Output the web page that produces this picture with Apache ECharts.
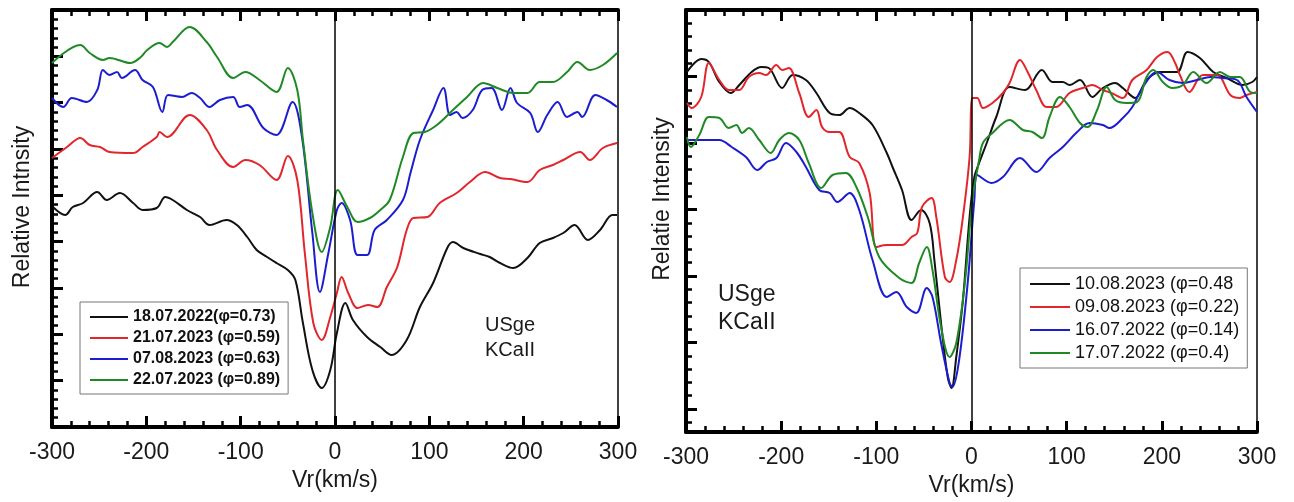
<!DOCTYPE html>
<html>
<head>
<meta charset="utf-8">
<script src="https://cdn.jsdelivr.net/npm/echarts@6/dist/echarts.min.js"></script>
<style>
  html, body { margin: 0; padding: 0; background: #fff; }
  #chart { width: 1294px; height: 502px; }
</style>
</head>
<body>
<div id="chart"></div>
<script>
// legend labels, same order as the curves below
const leftNames = ['18.07.2022(\u03c6=0.73)', '21.07.2023 (\u03c6=0.59)', '07.08.2023 (\u03c6=0.63)', '22.07.2023 (\u03c6=0.89)'];
const rightNames = ['10.08.2023 (\u03c6=0.48', '09.08.2023 (\u03c6=0.22)', '16.07.2022 (\u03c6=0.14)', '17.07.2022 (\u03c6=0.4)'];
const lineColors = ['#111111', '#e2262b', '#1d1dd0', '#1f8a25'];

// [Vr (km/s), relative intensity (arbitrary units, offsets as plotted)]
const leftBlack = [[-299,220],[-286,212],[-278,220],[-267,224],[-252,235],[-242,227],[-228,234],[-214,224],[-204,217],[-189,219],[-180,230],[-172,227],[-157,217],[-143,210],[-133,202],[-115,207],[-104,202],[-93,190],[-83,177],[-72,170],[-62,164],[-50,157],[-42,147],[-34,104],[-24,57],[-14,39],[-5,57],[2,94],[11,124],[19,107],[34,90],[48,80],[60,72],[76,87],[90,120],[104,144],[119,179],[125,185],[136,179],[154,173],[164,170],[175,164],[189,159],[204,169],[217,184],[231,189],[242,194],[254,202],[268,187],[281,197],[294,212],[299,212]];
const leftRed = [[-300,269],[-284,280],[-270,289],[-260,282],[-249,280],[-239,275],[-214,274],[-204,280],[-189,290],[-186,295],[-178,290],[-154,312],[-136,297],[-125,277],[-108,260],[-95,267],[-80,262],[-62,247],[-50,271],[-40,247],[-32,174],[-23,104],[-14,87],[-5,110],[2,134],[7,150],[14,134],[24,119],[35,122],[45,120],[55,140],[66,160],[76,197],[83,209],[98,210],[111,224],[129,234],[143,245],[159,255],[175,249],[186,248],[204,245],[217,257],[231,262],[242,267],[260,275],[270,267],[284,279],[299,284]];
const leftBlue = [[-300,329],[-288,320],[-279,329],[-263,325],[-252,337],[-246,357],[-239,352],[-231,355],[-226,349],[-212,357],[-204,347],[-193,340],[-183,315],[-177,332],[-162,330],[-152,334],[-143,329],[-133,320],[-122,327],[-108,330],[-101,320],[-93,322],[-76,299],[-62,292],[-45,325],[-35,290],[-24,194],[-16,135],[-7,174],[2,217],[7,224],[16,207],[24,172],[34,172],[42,197],[55,207],[72,227],[80,254],[90,287],[104,317],[115,339],[122,312],[129,315],[135,309],[146,317],[156,337],[166,339],[177,317],[186,339],[193,324],[207,314],[215,295],[225,312],[236,325],[246,310],[257,315],[262,310],[276,332],[288,327],[299,320]];
const leftGreen = [[-300,364],[-270,382],[-260,374],[-246,367],[-239,369],[-217,364],[-207,369],[-199,377],[-186,384],[-178,380],[-172,385],[-154,400],[-136,385],[-125,370],[-108,349],[-95,355],[-80,347],[-62,335],[-50,359],[-40,337],[-34,287],[-24,214],[-14,175],[-5,200],[3,237],[13,220],[24,205],[37,209],[48,217],[58,227],[72,270],[83,294],[95,295],[108,302],[125,317],[140,330],[157,344],[172,339],[189,334],[204,334],[217,345],[231,345],[246,355],[257,365],[270,357],[284,362],[299,374]];

const rightBlack = [[-299,360],[-284,373],[-276,370],[-265,350],[-253,339],[-244,347],[-231,360],[-221,365],[-213,364],[-199,344],[-188,357],[-174,352],[-163,339],[-149,319],[-139,317],[-128,324],[-118,319],[-104,307],[-89,279],[-83,265],[-73,242],[-63,212],[-53,222],[-44,209],[-39,172],[-32,109],[-25,55],[-21,44],[-16,75],[-9,132],[-2,215],[3,255],[8,269],[16,289],[26,315],[40,345],[56,342],[74,362],[85,350],[96,350],[103,347],[114,352],[127,335],[138,344],[151,349],[159,344],[172,334],[184,352],[198,360],[216,360],[227,380],[240,374],[254,360],[268,354],[285,347],[295,350],[300,355]];
const rightRed = [[-299,329],[-294,324],[-284,335],[-276,369],[-265,352],[-255,342],[-244,342],[-234,355],[-223,359],[-216,357],[-205,367],[-199,362],[-192,364],[-181,339],[-171,315],[-163,322],[-157,305],[-149,300],[-139,300],[-128,275],[-118,269],[-107,239],[-100,185],[-89,187],[-73,187],[-63,195],[-57,199],[-52,225],[-42,234],[-37,215],[-28,155],[-23,150],[-16,172],[-9,215],[-2,275],[1,334],[6,334],[12,324],[22,329],[33,339],[40,349],[51,372],[59,360],[68,342],[79,325],[89,325],[103,339],[117,344],[127,347],[138,342],[147,339],[159,334],[169,352],[184,362],[195,375],[206,380],[214,369],[219,357],[229,340],[243,357],[258,357],[272,337],[282,334],[289,337],[300,340]];
const rightBlue = [[-299,292],[-283,292],[-265,292],[-252,285],[-237,275],[-225,262],[-215,270],[-205,274],[-195,289],[-184,280],[-174,265],[-160,242],[-149,239],[-141,230],[-128,239],[-118,222],[-104,172],[-89,135],[-79,140],[-68,125],[-58,119],[-47,144],[-41,135],[-32,89],[-23,49],[-20,45],[-13,72],[-4,149],[3,232],[6,257],[21,249],[33,255],[51,274],[68,260],[82,274],[96,285],[111,300],[124,309],[138,307],[145,304],[159,314],[169,325],[180,345],[195,360],[208,352],[222,349],[237,352],[251,355],[264,354],[279,352],[289,335],[300,320]];
const rightGreen = [[-299,295],[-295,285],[-286,297],[-276,315],[-265,314],[-255,304],[-247,307],[-241,299],[-234,304],[-223,292],[-211,279],[-202,292],[-192,299],[-181,292],[-171,269],[-158,244],[-146,257],[-132,259],[-121,245],[-109,215],[-97,175],[-76,154],[-63,149],[-55,169],[-47,185],[-41,162],[-32,105],[-23,75],[-16,89],[-7,149],[1,232],[8,272],[12,289],[22,299],[40,312],[54,302],[64,300],[74,294],[82,315],[93,335],[103,325],[114,309],[122,305],[132,322],[142,345],[151,332],[163,329],[174,330],[184,355],[191,362],[201,350],[211,344],[222,347],[233,360],[247,349],[261,360],[272,355],[282,355],[293,340],[300,339]];

const leftCurves = [leftBlack, leftRed, leftBlue, leftGreen];
const rightCurves = [rightBlack, rightRed, rightBlue, rightGreen];

const FONT = 'Liberation Sans, Arial, sans-serif';
const INK = '#000';

function xAxisFor(grid, pos) {
    const bottom = pos === 'bottom';
    return {
        gridIndex: grid, type: 'value', position: pos,
        min: -300, max: 300, interval: 100,
        axisLine: { show: true, onZero: false, lineStyle: { color: INK, width: 4 } },
        axisTick: { show: true, inside: true, length: 11, lineStyle: { color: INK, width: 3 } },
        minorTick: { show: true, splitNumber: 5, length: 6, lineStyle: { color: INK, width: 2.5 } },
        splitLine: { show: false },
        axisLabel: { show: bottom, margin: 14, fontSize: 23, color: '#1a1a1a', fontFamily: FONT, showMinLabel: true, showMaxLabel: true },
        name: bottom ? 'Vr(km/s)' : '',
        nameLocation: 'middle', nameGap: 40,
        nameTextStyle: { fontSize: 23, color: '#1a1a1a', fontFamily: FONT }
    };
}

function tickAxis(grid, opts) {
    return Object.assign({
        gridIndex: grid, type: 'value', position: 'left',
        axisLine: { show: true, onZero: false, lineStyle: { color: INK, width: 4 } },
        axisTick: { show: true, inside: true, length: 11, lineStyle: { color: INK, width: 3 } },
        axisLabel: { show: false },
        splitLine: { show: false }
    }, opts);
}

function dataAxis(grid, max) {
    return {
        gridIndex: grid, type: 'value', position: 'right', min: 0, max: max,
        axisLine: { show: true, onZero: false, lineStyle: { color: INK, width: 1.5 } },
        axisTick: { show: false }, axisLabel: { show: false }, splitLine: { show: false }
    };
}

// right panel ticks start from the top edge
const rightSpan = 422 / 66.5;

const yAxes = [
    tickAxis(0, { min: 0, max: 9, interval: 1,
        minorTick: { show: true, splitNumber: 5, length: 6, lineStyle: { color: INK, width: 2.5 } } }),
    dataAxis(0, 417),
    tickAxis(1, { inverse: true, min: 0, max: rightSpan, interval: 1 }),
    tickAxis(1, { inverse: true, min: 0, max: rightSpan, interval: 0.2,
        axisLine: { show: false, onZero: false },
        axisTick: { show: true, inside: true, length: 6, lineStyle: { color: INK, width: 2.5 } } }),
    dataAxis(1, 422)
];

function curve(name, data, color, xi, yi) {
    return {
        type: 'line', name: name, data: data,
        xAxisIndex: xi, yAxisIndex: yi,
        showSymbol: false, smooth: 0.35, silent: true,
        lineStyle: { color: color, width: 2 },
        itemStyle: { color: color }
    };
}

function zeroLine(xi, yi) {
    return {
        type: 'line', data: [], xAxisIndex: xi, yAxisIndex: yi, silent: true,
        markLine: {
            symbol: ['none', 'none'], silent: true, label: { show: false },
            lineStyle: { color: INK, width: 1.5, type: 'solid' },
            data: [{ xAxis: 0 }]
        }
    };
}

const series = [zeroLine(0, 1), zeroLine(2, 4)];
leftCurves.forEach((d, i) => series.push(curve(leftNames[i], d, lineColors[i], 0, 1)));
rightCurves.forEach((d, i) => series.push(curve(rightNames[i], d, lineColors[i], 2, 4)));

const chart = echarts.init(document.getElementById('chart'));
chart.setOption({
    animation: false,
    backgroundColor: '#fff',
    grid: [
        { left: 52, top: 10, width: 566, height: 417 },
        { left: 686, top: 10, width: 571, height: 422 }
    ],
    xAxis: [xAxisFor(0, 'bottom'), xAxisFor(0, 'top'), xAxisFor(1, 'bottom'), xAxisFor(1, 'top')],
    yAxis: yAxes,
    legend: [
        {
            data: leftNames, orient: 'vertical', left: 80, top: 302,
            icon: 'rect', itemWidth: 38, itemHeight: 2, itemGap: 5,
            padding: [7, 8, 6, 10], borderColor: '#777', borderWidth: 1,
            selectedMode: false,
            textStyle: { fontSize: 16, fontWeight: 'bold', color: '#111', fontFamily: FONT }
        },
        {
            data: rightNames, orient: 'vertical', left: 1020, top: 268,
            icon: 'rect', itemWidth: 40, itemHeight: 2, itemGap: 5,
            padding: [7, 8, 6, 10], borderColor: '#777', borderWidth: 1,
            selectedMode: false,
            textStyle: { fontSize: 18, color: '#111', fontFamily: FONT }
        }
    ],
    graphic: [
        { type: 'text', x: 23, y: 207, rotation: Math.PI / 2,
          style: { text: 'Relative Intnsity', font: '23px ' + FONT, fill: '#1a1a1a', align: 'center', verticalAlign: 'middle' } },
        { type: 'text', x: 663, y: 199, rotation: Math.PI / 2,
          style: { text: 'Relatie Intensity', font: '23px ' + FONT, fill: '#1a1a1a', align: 'center', verticalAlign: 'middle' } },
        { type: 'text', x: 485, y: 313,
          style: { text: 'USge\nKCaII', font: '20px ' + FONT, lineHeight: 25, fill: '#1a1a1a', align: 'left', verticalAlign: 'top' } },
        { type: 'text', x: 718, y: 281,
          style: { text: 'USge\nKCaII', font: '23px ' + FONT, lineHeight: 28, fill: '#1a1a1a', align: 'left', verticalAlign: 'top' } }
    ],
    series: series
});
</script>
</body>
</html>
